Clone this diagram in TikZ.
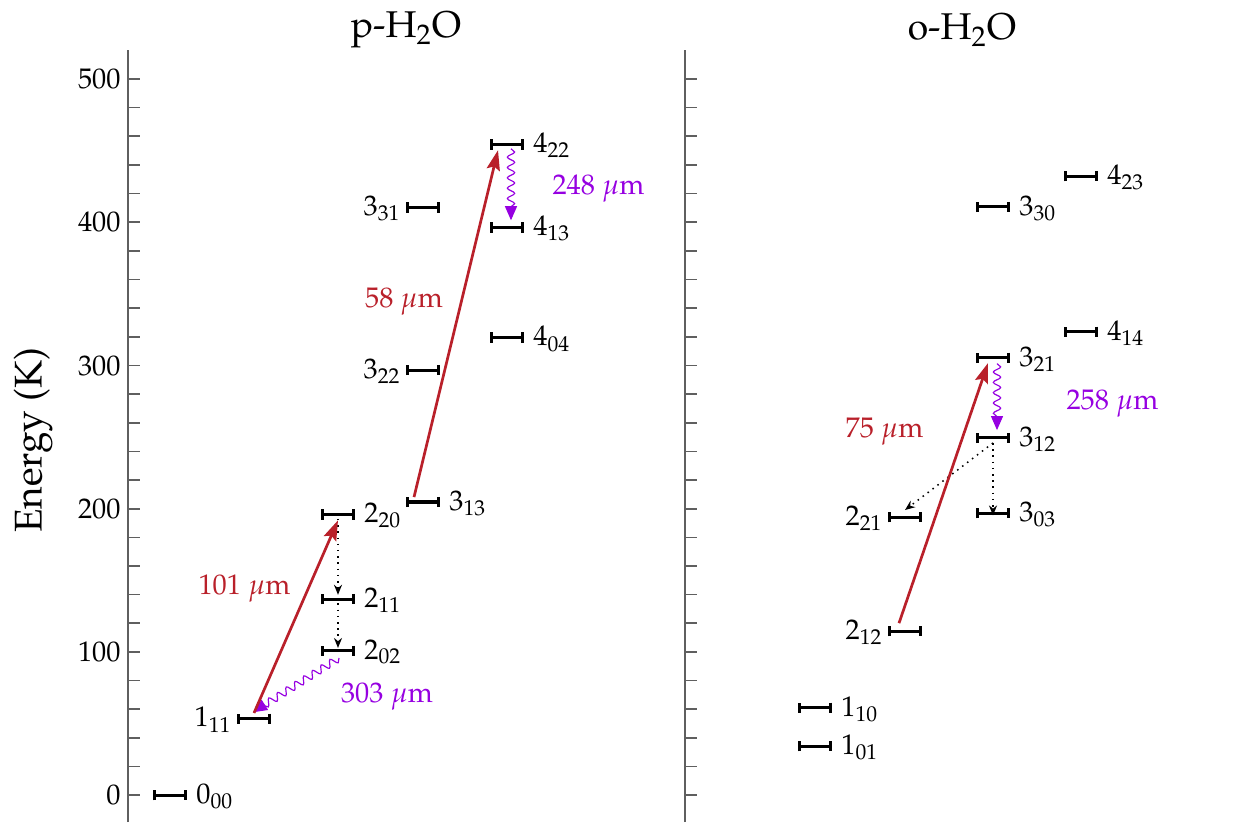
\documentclass[tikz,border=0pt]{standalone}
\usepackage[T1]{fontenc}
\usepackage{mathpazo}
\usepackage{tikz}
\usetikzlibrary{arrows.meta, decorations.pathmorphing}
\definecolor{pumpred}{RGB}{185, 32, 42}
\definecolor{maserviolet}{RGB}{150, 0, 225}
\definecolor{axisgray}{RGB}{95, 95, 95}

\begin{document}
\begin{tikzpicture}[x=0.015cm, y=0.02148cm, font=\fontsize{12.1}{14}\selectfont,
    lev/.style={line width=1.3pt, {Bar[width=4.4pt]}-{Bar[width=4.4pt]}},
    axline/.style={axisgray, line width=0.8pt},
    tick/.style={axisgray, line width=0.7pt},
    pump/.style={pumpred, line width=1.15pt, -{Stealth[length=0.3cm, width=0.2cm, inset=0.05cm]}},
    maser/.style={maserviolet, line width=0.5pt, -{Triangle[length=0.21cm, width=0.18cm]},
      decorate, decoration={snake, amplitude=0.055cm, segment length=0.155cm, post length=0.13cm}},
    cascade/.style={black, line width=0.65pt, dotted, -{Stealth[length=0.15cm, width=0.12cm]}},
    bigfont/.style={font=\fontsize{16.5}{19}\selectfont}]
  \useasboundingbox (0,-18.85) rectangle (1241,555.17);
  \foreach \ax in {128,685} {
    \draw[axline] (\ax,-18.85) -- (\ax,520.3);
    \foreach \e in {0,20,...,500}
      \draw[tick] (\ax,\e) -- ++(12,0);
  }
  \foreach \e in {0,100,...,500}
    \node[anchor=east, inner sep=0] (tick\e) at (121,\e) {\e};
  \node[bigfont, rotate=90] (ylab) at (33,247.9) {Energy (K)};
  \node[font=\fontsize{15.9}{18}\selectfont] (ptitle) at (406,534.2) {p-H$_2$O};
  \node[font=\fontsize{15.9}{18}\selectfont] (otitle) at (962,534.2) {o-H$_2$O};
  \foreach \n/\x/\e/\lab/\a/\dx in {
      p000/170/0/0_{00}/west/26, p111/254/53.4/1_{11}/east/-22,
      p202/338/100.8/2_{02}/west/26, p211/338/136.9/2_{11}/west/26,
      p220/338/195.9/2_{20}/west/26, p313/423/204.7/3_{13}/west/26,
      p322/423/296.8/3_{22}/east/-22, p331/423/410.4/3_{31}/east/-22,
      p404/507/319.5/4_{04}/west/26, p413/507/396.4/4_{13}/west/26,
      p422/507/454.3/4_{22}/west/26,
      o101/815/34.2/1_{01}/west/26, o110/815/61.0/1_{10}/west/26,
      o212/905/114.4/2_{12}/east/-22, o221/905/194.1/2_{21}/east/-22,
      o303/993/196.8/3_{03}/west/26, o312/993/249.4/3_{12}/west/26,
      o321/993/305.3/3_{21}/west/26, o330/993/410.7/3_{30}/west/26,
      o414/1081/323.5/4_{14}/west/26, o423/1081/432.2/4_{23}/west/26} {
    \coordinate (\n) at (\x,\e);
    \draw[lev] ([shift={(-17,0)}]\n) -- ([shift={(17,0)}]\n);
    \node[anchor=base \a, inner sep=0, yshift=-0.35em] (\n-lab) at ([shift={(\dx,0)}]\n) {$\lab$};
  }
  \draw[cascade] ([shift={(0,-3)}]p220) -- ([shift={(0,3)}]p211);
  \draw[cascade] ([shift={(0,-3)}]p211) -- ([shift={(0,2)}]p202);
  \draw[cascade] ([shift={(0,-3.5)}]o312) -- ([shift={(0,5)}]o221);
  \draw[cascade] ([shift={(0,-3.5)}]o312) -- ([shift={(0,-1.5)}]o303);
  \draw[maser] ([shift={(1,-5)}]p202) -- ([shift={(-1,4.5)}]p111);
  \draw[pump] ([shift={(0,4)}]p111) -- ([shift={(0,-4)}]p220);
  \draw[pump] ([shift={(-9,3.4)}]p313) -- ([shift={(-9,-4)}]p422);
  \draw[maser] ([shift={(4,-3)}]p422) -- ([shift={(4,5)}]p413);
  \draw[pump] ([shift={(-6,5.7)}]o212) -- ([shift={(-5,-3.6)}]o321);
  \draw[maser] ([shift={(4,-4)}]o321) -- ([shift={(4,5.5)}]o312);
  \node[pumpred, anchor=base] (l101) at (244.5,140.2) {101 $\mu$m};
  \node[maserviolet, anchor=base] (l303) at (387,64.9) {303 $\mu$m};
  \node[pumpred, anchor=base] (l58) at (404,340.8) {58 $\mu$m};
  \node[maserviolet, anchor=base] (l248) at (598.5,419.7) {248 $\mu$m};
  \node[pumpred, anchor=base] (l75) at (884.5,250) {75 $\mu$m};
  \node[maserviolet, anchor=base] (l258) at (1112.5,269.6) {258 $\mu$m};
\end{tikzpicture}
\end{document}
